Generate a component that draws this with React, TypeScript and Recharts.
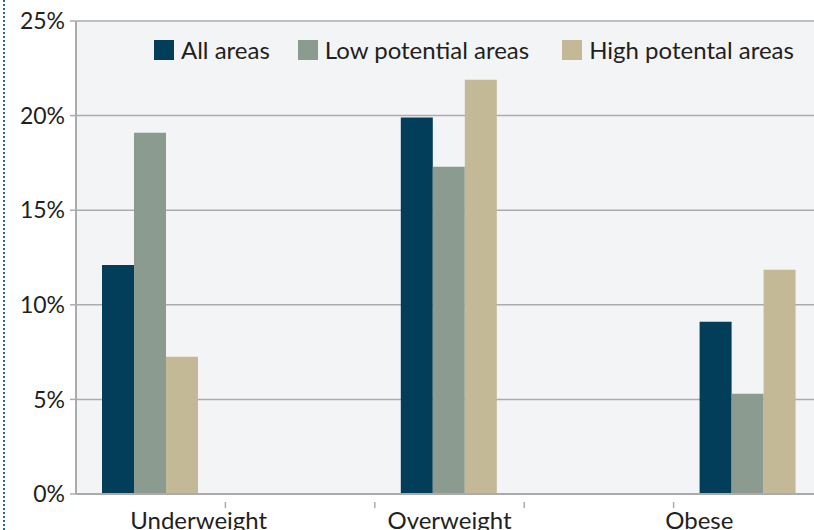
import { Bar, BarChart, CartesianGrid, Legend, XAxis, YAxis } from 'recharts';

// five slots on the axis; only 1, 3 and 5 carry bars
const categories = ['Underweight', '', 'Overweight', '', 'Obese'];
const allAreas = [12.1, null, 19.9, null, 9.1];
const lowPotential = [19.1, null, 17.3, null, 5.3];
const highPotential = [7.25, null, 21.9, null, 11.85];
const yTicks = [0, 5, 10, 15, 20, 25];

const seriesNames = ['All areas', 'Low potential areas', 'High potental areas'];
const seriesColors = ['#023d5a', '#8b9b90', '#c3b996'];

// label nudges, the source places them off-centre
const labelShift: Record<string, number> = { Underweight: 48, Overweight: 0, Obese: -49 };

const data = categories.map((name, i) => ({
  name,
  all: allAreas[i],
  low: lowPotential[i],
  high: highPotential[i],
}));

const FONT = 'Lato, "Noto Sans", sans-serif';
const AXIS = '#ababab';

function CategoryTick(props: any) {
  const { x, y, payload, index } = props;
  const half = payload?.offset ?? 74.65;
  const label = payload?.value as string;
  return (
    <g>
      {index < categories.length - 1 && (
        <line x1={x + half} x2={x + half} y1={y} y2={y + 6} stroke={AXIS} strokeWidth={1.5} />
      )}
      {label && (
        <text
          x={x + (labelShift[label] ?? 0)}
          y={y + 27}
          textAnchor="middle"
          fontFamily={FONT}
          fontSize={24}
          fill="#231f20"
        >
          {label}
        </text>
      )}
    </g>
  );
}

function LegendBox() {
  return (
    <div
      style={{
        display: 'flex',
        alignItems: 'center',
        whiteSpace: 'nowrap',
        fontFamily: FONT,
        fontSize: 24,
        color: '#231f20',
      }}
    >
      {seriesNames.map((n, i) => (
        <div key={n} style={{ display: 'flex', alignItems: 'center', flexShrink: 0, marginRight: i === 0 ? 28 : 33 }}>
          <span style={{ width: 20, height: 20, background: seriesColors[i], display: 'inline-block', marginRight: 7 }} />
          <span>{n}</span>
        </div>
      ))}
    </div>
  );
}

export default function App() {
  return (
    <div
      style={{
        position: 'fixed',
        left: 0,
        top: 0,
        width: 814,
        height: 530,
        overflow: 'hidden',
        background: '#fff',
      }}
    >
      <div style={{ position: 'absolute', left: 3, top: 0, bottom: 0, borderLeft: '2px dotted #2a6a90' }} />
      <BarChart
        width={823}
        height={530}
        data={data}
        margin={{ top: 21, right: 0, left: 16, bottom: 0 }}
        barCategoryGap={26}
        barGap={0}
      >
        <CartesianGrid vertical={false} stroke={AXIS} strokeWidth={1.5} fill="#f3f4f6" />
        <XAxis
          dataKey="name"
          height={36}
          axisLine={{ stroke: AXIS, strokeWidth: 2 }}
          tickLine={false}
          tick={<CategoryTick />}
          interval={0}
        />
        <YAxis
          width={60}
          domain={[0, 25]}
          ticks={yTicks}
          tickFormatter={(v: number) => `${v}%`}
          axisLine={{ stroke: AXIS, strokeWidth: 2 }}
          tickLine={{ stroke: AXIS, strokeWidth: 1.5 }}
          tickSize={6}
          tickMargin={5}
          tick={{ fontFamily: FONT, fontSize: 23, fill: '#231f20' }}
        />
        <Legend
          verticalAlign="middle"
          align="center"
          content={<LegendBox />}
          wrapperStyle={{ top: 35, left: 154, width: 660 }}
        />
        <Bar dataKey="all" name={seriesNames[0]} fill={seriesColors[0]} isAnimationActive={false} />
        <Bar dataKey="low" name={seriesNames[1]} fill={seriesColors[1]} isAnimationActive={false} />
        <Bar dataKey="high" name={seriesNames[2]} fill={seriesColors[2]} isAnimationActive={false} />
      </BarChart>
    </div>
  );
}
